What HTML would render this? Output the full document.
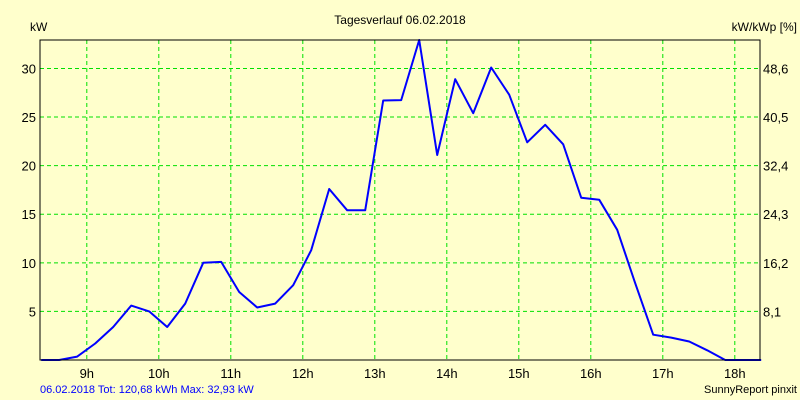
<!DOCTYPE html>
<html><head><meta charset="utf-8"><style>
body{margin:0;background:#FFFFCC;}
svg{display:block;font-family:"Liberation Sans",sans-serif;}
</style></head><body>
<svg id="chart" width="800" height="400">
<rect width="800" height="400" fill="#FFFFCC"/>
<text x="400" y="24" text-anchor="middle" font-size="12">Tagesverlauf 06.02.2018</text>
<text x="30" y="31" font-size="12">kW</text>
<text x="797" y="31" font-size="12" text-anchor="end">kW/kWp [%]</text>
<text x="40" y="393" font-size="11" fill="#0000FF">06.02.2018 Tot: 120,68 kWh Max: 32,93 kW</text>
<text x="797" y="393" font-size="11" text-anchor="end">SunnyReport pinxit</text>
<g id="grid"></g><g id="labels"></g><g id="series"></g>
<rect x="40" y="40" width="720" height="320" fill="none" stroke="#000" stroke-width="1"/>
</svg>
<script>
const startMinutes = 8*60+22;
const stepMinutes = 15;
const powerKw = [0,0,0.35,1.7,3.4,5.6,5.0,3.4,5.8,10.0,10.1,7.0,5.4,5.8,7.7,11.3,17.6,15.4,15.4,26.7,26.75,32.93,21.1,28.9,25.4,30.1,27.3,22.4,24.2,22.2,16.7,16.5,13.4,7.9,2.6,2.3,1.9,1.0,0,0,0];
const yTicks = [5,10,15,20,25,30];
const yTickLabels = ["5","10","15","20","25","30"];
const rightTickLabels = ["8,1","16,2","24,3","32,4","40,5","48,6"];
const xHours = [9,10,11,12,13,14,15,16,17,18];
const xTickLabels = ["9h","10h","11h","12h","13h","14h","15h","16h","17h","18h"];
const yMax = 32.93;
const NS="http://www.w3.org/2000/svg";
const L=40,R=760,T=40,B=360;
const xMin=8+21/60, xMaxH=xMin+10;
function xs(h){return L+(h-xMin)/(xMaxH-xMin)*(R-L);}
function ys(v){return B-v/yMax*(B-T);}
function mk(tag,attrs,parent){const e=document.createElementNS(NS,tag);for(const k in attrs)e.setAttribute(k,attrs[k]);parent.appendChild(e);return e;}
const grid=document.getElementById('grid'),labels=document.getElementById('labels'),series=document.getElementById('series');
yTicks.forEach((v,i)=>{
  const y=ys(v);
  const g=mk('line',{x1:L,x2:R,y1:y,y2:y,stroke:'#00E000','stroke-dasharray':'4,3'},grid);
  
  
  const t=mk('text',{x:36,y:y+5,'text-anchor':'end','font-size':'13'},labels);
  t.textContent=yTickLabels[i];
  
  
  const r=mk('text',{x:763,y:y+5,'font-size':'13'},labels);
  r.textContent=rightTickLabels[i];
  
  
});
xHours.forEach((h,i)=>{
  const x=xs(h);
  const g=mk('line',{x1:x,x2:x,y1:T,y2:B,stroke:'#00E000','stroke-dasharray':'4,3'},grid);
  
  
  const t=mk('text',{x:x,y:378,'text-anchor':'middle','font-size':'13'},labels);
  t.textContent=xTickLabels[i];
  
  
});
const pts=powerKw.map((v,i)=>xs((startMinutes+i*stepMinutes)/60).toFixed(1)+','+ys(v).toFixed(1)).join(' ');
const pl=mk('polyline',{points:pts,fill:'none',stroke:'#0000FF','stroke-width':'2','stroke-linejoin':'round'},series);


</script>
</body></html>
